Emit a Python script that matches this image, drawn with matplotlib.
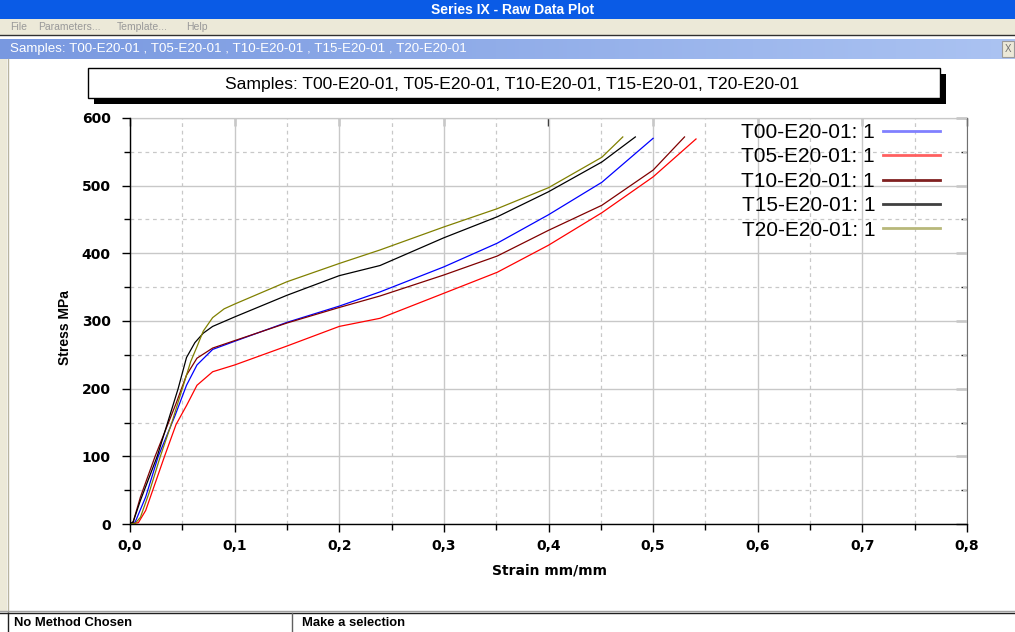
import numpy as np
import matplotlib.pyplot as plt
from matplotlib.patches import Rectangle
from matplotlib.lines import Line2D
from matplotlib.colors import LinearSegmentedColormap

W, H = 1015, 632

window_title = 'Series IX - Raw Data Plot'
menu_items = ['File', 'Parameters...', 'Template...', 'Help']
sample_names = ['T00-E20-01', 'T05-E20-01', 'T10-E20-01', 'T15-E20-01', 'T20-E20-01']
chart_title = 'Samples: ' + ', '.join(sample_names)
bar_title = 'Samples: ' + ' , '.join(sample_names)
x_label = 'Strain mm/mm'
y_label = 'Stress MPa'
x_ticks = [0.0, 0.1, 0.2, 0.3, 0.4, 0.5, 0.6, 0.7, 0.8]
x_tick_labels = ['0,0', '0,1', '0,2', '0,3', '0,4', '0,5', '0,6', '0,7', '0,8']
y_ticks = [0, 100, 200, 300, 400, 500, 600]
y_tick_labels = ['0', '100', '200', '300', '400', '500', '600']
status_left = 'No Method Chosen'
status_right = 'Make a selection'

# curves (strain mm/mm, stress MPa)
strain_t00 = [0.0, 0.005, 0.015, 0.027, 0.043, 0.054, 0.064, 0.079, 0.1, 0.15, 0.2, 0.239, 0.3, 0.351, 0.4, 0.451, 0.5]
stress_t00 = [0, 3, 40, 100, 160, 205, 235, 258, 270, 298, 322, 343, 380, 415, 457, 505, 570]

strain_t05 = [0.0, 0.008, 0.015, 0.033, 0.044, 0.054, 0.064, 0.079, 0.1, 0.15, 0.2, 0.239, 0.3, 0.351, 0.4, 0.451, 0.5, 0.541]
stress_t05 = [0, 2, 20, 100, 147, 175, 205, 225, 235, 263, 292, 304, 341, 372, 412, 460, 513, 569]

strain_t10 = [0.0, 0.003, 0.01, 0.024, 0.044, 0.054, 0.064, 0.079, 0.1, 0.15, 0.2, 0.239, 0.3, 0.351, 0.4, 0.451, 0.5, 0.53]
stress_t10 = [0, 3, 40, 100, 178, 220, 245, 260, 271, 297, 320, 337, 368, 396, 434, 471, 523, 572]

strain_t15 = [0.0, 0.003, 0.01, 0.026, 0.038, 0.046, 0.054, 0.062, 0.07, 0.079, 0.1, 0.15, 0.2, 0.239, 0.3, 0.351, 0.4, 0.451, 0.483]
stress_t15 = [0, 3, 35, 100, 160, 200, 246, 268, 282, 292, 306, 338, 367, 382, 423, 454, 491, 535, 572]

strain_t20 = [0.0, 0.005, 0.01, 0.018, 0.029, 0.04, 0.05, 0.058, 0.064, 0.07, 0.079, 0.09, 0.1, 0.15, 0.2, 0.239, 0.3, 0.351, 0.4, 0.451, 0.471]
stress_t20 = [0, 1, 10, 45, 100, 150, 200, 240, 262, 285, 305, 318, 325, 358, 385, 405, 439, 466, 497, 542, 572]

strains = [strain_t00, strain_t05, strain_t10, strain_t15, strain_t20]
stresses = [stress_t00, stress_t05, stress_t10, stress_t15, stress_t20]
line_colors = ['#0000ff', '#ff0000', '#800000', '#000000', '#808000']
legend_colors = ['#8080ff', '#ff6060', '#802020', '#404040', '#b8b87a']

fig = plt.figure(figsize=(W / 100, H / 100), dpi=100)
fig.patch.set_facecolor('white')


def rect(x, y, w, h, **kw):
    fig.patches.append(Rectangle((x / W, 1 - (y + h) / H), w / W, h / H,
                                 transform=fig.transFigure, **kw))


def text(x, y, s, **kw):
    fig.text(x / W, 1 - y / H, s, **kw)


def hline(x0, x1, y, **kw):
    fig.add_artist(Line2D([x0 / W, x1 / W], [1 - y / H, 1 - y / H], transform=fig.transFigure, **kw))


def vline(x, y0, y1, **kw):
    fig.add_artist(Line2D([x / W, x / W], [1 - y0 / H, 1 - y1 / H], transform=fig.transFigure, **kw))


# window chrome
rect(0, 0, W, 19, facecolor='#0a5be6', edgecolor='none')
text(513, 9.5, window_title, color='white', fontsize=10, fontweight='bold',
     family='Liberation Sans', ha='center', va='center')
rect(0, 19, W, 16, facecolor='#ece9d8', edgecolor='none')
for mx, item in zip([10, 38, 117, 186], menu_items):
    text(mx, 27.5, item, color='#999999', fontsize=7.5, family='Liberation Sans', va='center')
hline(0, W, 34.5, color='#303030', lw=1)

gax = fig.add_axes([0, 1 - 59 / H, 1, 20 / H])
gax.imshow(np.linspace(0, 1, 256)[None, :], aspect='auto', extent=[0, 1, 0, 1],
           cmap=LinearSegmentedColormap.from_list('bar', ['#7898e0', '#abc3f2']))
gax.axis('off')
text(10, 49, bar_title, color='white', fontsize=9.6, family='Liberation Sans', va='center')
rect(1002, 41, 12, 16, facecolor='#ece9d8', edgecolor='#9a9a9a', lw=0.8)
text(1008, 49, 'X', color='#707070', fontsize=7, family='Liberation Sans', ha='center', va='center')

rect(0, 59, 7, 553, facecolor='#ece9d8', edgecolor='none')
vline(7.5, 59, 612, color='#b8b4a0', lw=1)

# title box with shadow
rect(94, 74, 852, 30, facecolor='black', edgecolor='none')
rect(88, 68, 852, 30, facecolor='white', edgecolor='black', lw=1)
text(512, 84, chart_title, fontsize=12.6, family='Liberation Sans', ha='center', va='center')

# status bar
hline(0, W, 611, color='#a0a0a0', lw=1)
hline(0, W, 613, color='#202020', lw=1)
vline(8, 613, 632, color='#202020', lw=1)
vline(292, 613, 632, color='#606060', lw=1)
text(14, 623, status_left, fontsize=9.4, fontweight='bold', family='Liberation Sans', va='center')
text(302, 623, status_right, fontsize=9.4, fontweight='bold', family='Liberation Sans', va='center')

# plot
ax = fig.add_axes([130 / W, 1 - 524 / H, 837 / W, 406 / H])
for sx, sy, c in zip(strains, stresses, line_colors):
    ax.plot(sx, sy, color=c, lw=0.9)

ax.set_xlim(0, 0.8)
ax.set_ylim(0, 600)
ax.set_xticks(x_ticks)
ax.set_xticklabels(x_tick_labels, fontweight='bold', fontsize=10)
ax.set_yticks(y_ticks)
ax.set_yticklabels(y_tick_labels, fontweight='bold', fontsize=10)
ax.set_xticks(np.arange(0.05, 0.8, 0.1), minor=True)
ax.set_yticks(np.arange(50, 600, 100), minor=True)
ax.grid(which='major', color='#c8c8c8', lw=1, ls='-')
ax.grid(which='minor', color='#c8c8c8', lw=0.9, ls=(0, (3, 3)))
ax.set_axisbelow(True)
ax.tick_params(which='major', direction='out', length=6, width=1, color='black')
ax.tick_params(which='minor', direction='out', length=4, width=1, color='black')
ax.tick_params(axis='x', pad=5)
ax.tick_params(axis='y', pad=8)
for s in ['left', 'bottom']:
    ax.spines[s].set_color('black')
    ax.spines[s].set_linewidth(1)
for s in ['top', 'right']:
    ax.spines[s].set_visible(False)

top = ax.secondary_xaxis('top')
top.set_xticks(x_ticks)
top.set_xticklabels([])
top.tick_params(direction='in', length=6, width=1, color='#202020')
top.spines['top'].set_color('#808080')
right = ax.secondary_yaxis('right')
right.set_yticks(y_ticks)
right.set_yticks(np.arange(50, 600, 100), minor=True)
right.set_yticklabels([])
right.tick_params(which='major', direction='in', length=8, width=1, color='#202020')
right.tick_params(which='minor', direction='in', length=4, width=1, color='#202020')
right.spines['right'].set_color('#707070')

text(65, 328, y_label, fontsize=10, fontweight='bold', family='Liberation Sans',
     rotation=90, ha='center', va='center')
text(549, 571, x_label, fontsize=10, fontweight='bold', family='DejaVu Sans',
     ha='center', va='center')

handles = [Line2D([], [], color=c, lw=2) for c in legend_colors]
labels = [n + ': 1' for n in sample_names]
ax.legend(handles, labels, loc='upper right', bbox_to_anchor=(940 / W, 1 - 123 / H),
          bbox_transform=fig.transFigure, frameon=False, markerfirst=False,
          prop={'family': 'Liberation Sans', 'size': 15}, handlelength=2.74,
          handletextpad=0.38, labelspacing=0.26, borderpad=0, borderaxespad=0)

fig.savefig('out.png', dpi=100)
